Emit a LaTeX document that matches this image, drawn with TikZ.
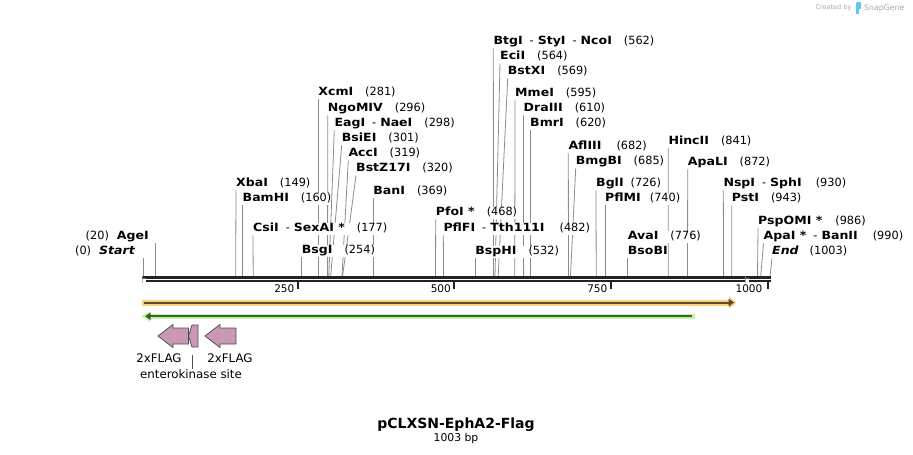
\documentclass[tikz,border=0pt]{standalone}
\usepackage{fontspec}
\setmainfont{DejaVu Sans}
\newfontfamily\enzfont{DejaVu Sans}[FakeStretch=1.11]
\usepackage{tikz}
\usetikzlibrary{arrows}
\usetikzlibrary{patterns}
\usetikzlibrary{backgrounds}
\definecolor{cutgrey}{HTML}{8C8C8C}
\definecolor{axisblack}{HTML}{222222}
\definecolor{orangeband}{HTML}{FBD17F}
\definecolor{orangeline}{HTML}{5C4A2E}
\definecolor{greenband}{HTML}{BFF59A}
\definecolor{greenline}{HTML}{3E5A36}
\definecolor{flagpink}{HTML}{C999B4}
\definecolor{flagedge}{HTML}{505050}
\definecolor{logoblue}{HTML}{63C5F0}
\definecolor{creditgrey}{HTML}{A8A8A8}
\newcommand{\enz}[1]{{\enzfont\bfseries #1}}
\newcommand{\cutpos}[1]{\hspace{12pt}(#1)}
\newcommand{\alsocut}{\hspace{7pt}-\hspace{4pt}}
\tikzstyle{SiteLabel}=[anchor=west, fill=white, inner xsep=0pt, inner ysep=1pt, text height=8pt, text depth=2.5pt, font=\fontsize{11.3}{13}\selectfont]
\tikzstyle{EndLabel}=[SiteLabel, anchor=east]
\tikzstyle{CutLine}=[draw=cutgrey, line width=0.8pt]
\tikzstyle{AxisLine}=[draw=axisblack, line width=2.4pt]
\tikzstyle{TickMark}=[draw=axisblack, line width=2pt]
\tikzstyle{TickLabel}=[anchor=east, inner sep=0pt, font=\fontsize{10.5}{12}\selectfont]
\tikzstyle{FlagShape}=[fill=flagpink, draw=flagedge, line width=0.8pt, line join=miter]
\tikzstyle{FeatLabel}=[inner sep=0pt, font=\fontsize{11.8}{14}\selectfont]

\begin{document}
\begin{tikzpicture}[x=1pt, y=-1pt]
\useasboundingbox (0,0) rectangle (913,455);

% credit
\node[inner sep=0pt, text=creditgrey, font=\fontsize{6.5}{8}\selectfont](credit) at (833.5,7.5) {Created by};
\fill[logoblue, rounded corners=1pt] (856,2) rectangle (861,9);
\fill[logoblue] (856,8) rectangle (858.5,14);
\node[inner sep=0pt, anchor=west, text=creditgrey, font=\fontsize{7.8}{9}\selectfont](snapgene) at (864,8) {SnapGene};

% enzyme sites
\node[EndLabel](Start) at (135,252) {(0)\hspace{8pt}{\enzfont\bfseries\itshape Start}};
\coordinate (Startcut) at (143,276);
\node[EndLabel](AgeI) at (149,237) {(20)\hspace{8pt}\enz{AgeI}};
\coordinate (AgeIcut) at (155.5,276);
\node[SiteLabel](XbaI) at (236,184) {\enz{XbaI}\cutpos{149}};
\coordinate (XbaIcut) at (235.7,276);
\node[SiteLabel](BamHI) at (242.5,199) {\enz{BamHI}\cutpos{160}};
\coordinate (BamHIcut) at (242.5,276);
\node[SiteLabel](CsiI) at (253,229) {\enz{CsiI}\alsocut\enz{SexAI *}\cutpos{177}};
\coordinate (CsiIcut) at (253.2,276);
\node[SiteLabel](BsgI) at (301.7,251) {\enz{BsgI}\cutpos{254}};
\coordinate (BsgIcut) at (301.7,276);
\node[SiteLabel](XcmI) at (318.2,93) {\enz{XcmI}\cutpos{281}};
\coordinate (XcmIcut) at (318.2,276);
\node[SiteLabel](NgoMIV) at (327.7,109) {\enz{NgoMIV}\cutpos{296}};
\coordinate (NgoMIVcut) at (327.6,276);
\node[SiteLabel](EagI) at (334.3,124) {\enz{EagI}\alsocut\enz{NaeI}\cutpos{298}};
\coordinate (EagIcut) at (328.8,276);
\node[SiteLabel](BsiEI) at (341.7,139) {\enz{BsiEI}\cutpos{301}};
\coordinate (BsiEIcut) at (330.7,276);
\node[SiteLabel](AccI) at (348.3,154) {\enz{AccI}\cutpos{319}};
\coordinate (AccIcut) at (342,276);
\node[SiteLabel](BstZ17I) at (356,169) {\enz{BstZ17I}\cutpos{320}};
\coordinate (BstZ17Icut) at (342.6,276);
\node[SiteLabel](BanI) at (373.2,192) {\enz{BanI}\cutpos{369}};
\coordinate (BanIcut) at (373.2,276);
\node[SiteLabel](PfoI) at (435.7,213) {\enz{PfoI *}\cutpos{468}};
\coordinate (PfoIcut) at (435.5,276);
\node[SiteLabel](PflFI) at (443.3,229) {\enz{PflFI}\alsocut\enz{Tth111I}\hspace{15pt}(482)};
\coordinate (PflFIcut) at (443.6,276);
\node[SiteLabel](BspHI) at (475.2,252) {\enz{BspHI}\cutpos{532}};
\coordinate (BspHIcut) at (475.2,276);
\node[SiteLabel](BtgI) at (493.3,42) {\enz{BtgI}\alsocut\enz{StyI}\alsocut\enz{NcoI}\cutpos{562}};
\coordinate (BtgIcut) at (493.6,276);
\node[SiteLabel](EciI) at (500,57) {\enz{EciI}\cutpos{564}};
\coordinate (EciIcut) at (495,276);
\node[SiteLabel](BstXI) at (507.7,72) {\enz{BstXI}\cutpos{569}};
\coordinate (BstXIcut) at (498.2,276);
\node[SiteLabel](MmeI) at (515,94) {\enz{MmeI}\cutpos{595}};
\coordinate (MmeIcut) at (514.8,276);
\node[SiteLabel](DraIII) at (523.5,109) {\enz{DraIII}\cutpos{610}};
\coordinate (DraIIIcut) at (523.6,276);
\node[SiteLabel](BmrI) at (530,124) {\enz{BmrI}\cutpos{620}};
\coordinate (BmrIcut) at (530,276);
\node[SiteLabel](AflIII) at (568.3,147) {\enz{AflIII}\hspace{15pt}(682)};
\coordinate (AflIIIcut) at (568.5,276);
\node[SiteLabel](BmgBI) at (575.7,162) {\enz{BmgBI}\cutpos{685}};
\coordinate (BmgBIcut) at (570.5,276);
\node[SiteLabel](BglI) at (596,184) {\enz{BglI}\hspace{7pt}(726)};
\coordinate (BglIcut) at (596.2,276);
\node[SiteLabel](PflMI) at (605,199) {\enz{PflMI}\hspace{9pt}(740)};
\coordinate (PflMIcut) at (605,276);
\node[SiteLabel](AvaI) at (627.7,237) {\enz{AvaI}\cutpos{776}};
\coordinate (AvaIcut) at (627.7,276);
\node[SiteLabel](BsoBI) at (627.7,252) {\enz{BsoBI}};
\node[SiteLabel](HincII) at (668.3,142) {\enz{HincII}\cutpos{841}};
\coordinate (HincIIcut) at (668.2,276);
\node[SiteLabel](ApaLI) at (687.7,163) {\enz{ApaLI}\cutpos{872}};
\coordinate (ApaLIcut) at (687.5,276);
\node[SiteLabel](NspI) at (723.3,184) {\enz{NspI}\alsocut\enz{SphI}\hspace{14pt}(930)};
\coordinate (NspIcut) at (723.6,276);
\node[SiteLabel](PstI) at (731.7,199) {\enz{PstI}\cutpos{943}};
\coordinate (PstIcut) at (731.8,276);
\node[SiteLabel](PspOMI) at (758,222) {\enz{PspOMI *}\hspace{13pt}(986)};
\coordinate (PspOMIcut) at (757.5,276);
\node[SiteLabel](ApaI) at (763.5,237) {\enz{ApaI *}\alsocut\enz{BanII}\hspace{15pt}(990)};
\coordinate (ApaIcut) at (760.7,276);
\node[SiteLabel](End) at (772,252) {{\enzfont\bfseries\itshape End}\hspace{11pt}(1003)};
\coordinate (Endcut) at (770,276);

\begin{scope}[on background layer]
\draw[CutLine](Start.south east -| Startcut) -- (Startcut);
\draw[CutLine](AgeI.south east -| AgeIcut) -- (AgeIcut);
\draw[CutLine](XbaI.south west) -- (XbaIcut);
\draw[CutLine](BamHI.south west) -- (BamHIcut);
\draw[CutLine](CsiI.south west) -- (CsiIcut);
\draw[CutLine](BsgI.south west) -- (BsgIcut);
\draw[CutLine](XcmI.south west) -- (XcmIcut);
\draw[CutLine](NgoMIV.south west) -- (NgoMIVcut);
\draw[CutLine](EagI.south west) -- (EagIcut);
\draw[CutLine](BsiEI.south west) -- (BsiEIcut);
\draw[CutLine](AccI.south west) -- (AccIcut);
\draw[CutLine](BstZ17I.south west) -- (BstZ17Icut);
\draw[CutLine](BanI.south west) -- (BanIcut);
\draw[CutLine](PfoI.south west) -- (PfoIcut);
\draw[CutLine](PflFI.south west) -- (PflFIcut);
\draw[CutLine](BspHI.south west) -- (BspHIcut);
\draw[CutLine](BtgI.south west) -- (BtgIcut);
\draw[CutLine](EciI.south west) -- (EciIcut);
\draw[CutLine](BstXI.south west) -- (BstXIcut);
\draw[CutLine](MmeI.south west) -- (MmeIcut);
\draw[CutLine](DraIII.south west) -- (DraIIIcut);
\draw[CutLine](BmrI.south west) -- (BmrIcut);
\draw[CutLine](AflIII.south west) -- (AflIIIcut);
\draw[CutLine](BmgBI.south west) -- (BmgBIcut);
\draw[CutLine](BglI.south west) -- (BglIcut);
\draw[CutLine](PflMI.south west) -- (PflMIcut);
\draw[CutLine](BsoBI.south west) -- (AvaIcut);
\draw[CutLine](HincII.south west) -- (HincIIcut);
\draw[CutLine](ApaLI.south west) -- (ApaLIcut);
\draw[CutLine](NspI.south west) -- (NspIcut);
\draw[CutLine](PstI.south west) -- (PstIcut);
\draw[CutLine](PspOMI.south west) -- (PspOMIcut);
\draw[CutLine](ApaI.south west) -- (ApaIcut);
\draw[CutLine](End.south west) -- (Endcut);
\end{scope}

% sequence axis
\draw[AxisLine] (142,277.3) -- (771,277.3);
\draw[AxisLine, line width=2.2pt] (142,281.2) -- (771,281.2);
\fill[white] (142,276) rectangle (146,282.4);
\fill[pattern=checkerboard, pattern color=axisblack] (142,276) rectangle (146,282.4);
\fill[white] (745,276) rectangle (749,282.4);
\fill[pattern=checkerboard, pattern color=axisblack] (745,276) rectangle (749,282.4);
\draw[TickMark] (297.8,282) -- (297.8,289);
\draw[TickMark] (454.3,282) -- (454.3,289);
\draw[TickMark] (611,282) -- (611,289);
\draw[TickMark] (768,282) -- (768,289);
\node[TickLabel](t250) at (294.5,289) {250};
\node[TickLabel](t500) at (451,289) {500};
\node[TickLabel](t750) at (607.5,289) {750};
\node[TickLabel](t1000) at (762.5,289) {1000};

% features
\fill[orangeband] (142,299.5) rectangle (729,305.7);
\fill[orangeband] (729,296.5) -- (736.5,302.6) -- (729,308.7) -- cycle;
\draw[orangeline, line width=2pt] (144,302.6) -- (730,302.6);
\fill[orangeline] (728.5,298.6) -- (734,302.6) -- (728.5,306.6) -- cycle;
\fill[greenband] (149,313.5) rectangle (695,319.2);
\fill[greenband] (150,311) -- (141.5,316.3) -- (150,321.6) -- cycle;
\draw[greenline, line width=2pt] (148,316.3) -- (692,316.3);
\fill[greenline] (150.5,312.6) -- (145,316.3) -- (150.5,320) -- cycle;

\draw[FlagShape] (158,336) -- (173,324.5) -- (173,328) -- (188.5,328) -- (188.5,344) -- (173,344) -- (173,347.5) -- cycle;
\draw[FlagShape] (192,325) -- (198,325) -- (198,347) -- (192,347) -- (188.5,336) -- cycle;
\draw[FlagShape] (205,336) -- (220,324.5) -- (220,328) -- (236,328) -- (236,344) -- (220,344) -- (220,347.5) -- cycle;

\node[FeatLabel](flagA) at (159,358) {2xFLAG};
\node[FeatLabel](flagB) at (230,358) {2xFLAG};
\node[FeatLabel](ek) at (191,374) {enterokinase site};
\coordinate (ektop) at (192,355);
\draw[CutLine, draw=flagedge] (ek.north -| ektop) -- (ektop);

% title
\node[inner sep=0pt, font=\fontsize{14}{16}\selectfont\bfseries](title) at (456,424.5) {pCLXSN-EphA2-Flag};
\node[inner sep=0pt, font=\fontsize{10.8}{12}\selectfont](length) at (456,439) {1003 bp};

\end{tikzpicture}
\end{document}
